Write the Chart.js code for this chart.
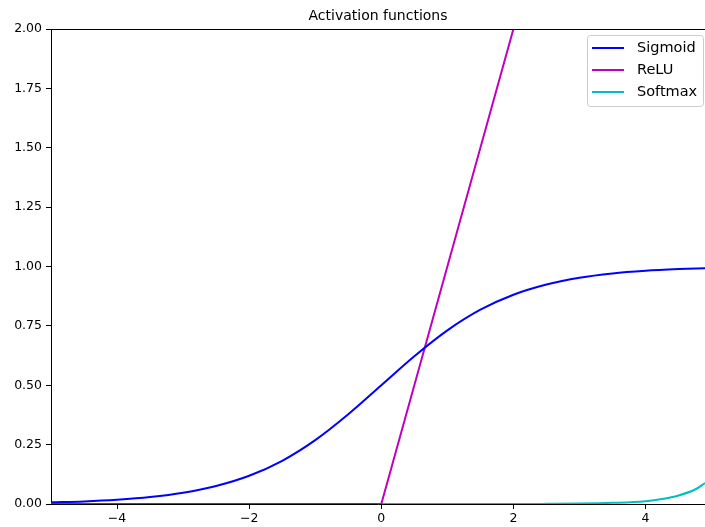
<!DOCTYPE html>
<html>
<head>
<meta charset="utf-8">
<title>Activation functions</title>
<script src="https://cdn.jsdelivr.net/npm/chart.js"></script>
<style>
  body { margin: 0; background: #fff; }
  canvas { display: block; }
</style>
</head>
<body>
<canvas id="chart" width="705" height="527"></canvas>
<script>
// data
const xs = [-5, -4.5, -4, -3.5, -3, -2.5, -2, -1.5, -1, -0.5, 0, 0.5, 1, 1.5, 2, 2.5, 3, 3.5, 4, 4.5, 4.9];
const sigmoidVals = [0.007, 0.011, 0.018, 0.029, 0.047, 0.076, 0.119, 0.182, 0.269, 0.378, 0.5, 0.622, 0.731, 0.818, 0.881, 0.924, 0.953, 0.971, 0.982, 0.989, 0.993];
const reluVals = [0, 0, 0, 0, 0, 0, 0, 0, 0, 0, 0, 0.5, 1, 1.5, 2, 2.5, 3, 3.5, 4, 4.5, 4.9];
const softmaxXs = [-5, -4, -3, -2, -1, 0, 1, 2, 2.5, 3, 3.5, 4, 4.25, 4.5, 4.75, 4.9];
const softmaxVals = [0, 0, 0, 0, 0, 0, 0, 0, 0.0006, 0.0018, 0.005, 0.012, 0.021, 0.036, 0.061, 0.088];
const xTicks = [-4, -2, 0, 2, 4];
const seriesNames = ['Sigmoid', 'ReLU', 'Softmax'];
const seriesColors = ['#0000ff', '#bf00bf', '#00bfbf'];

const FONT = 'DejaVu Sans';
const pts = (xv, vals) => xv.map((x, i) => ({ x: x, y: vals[i] }));

// title, top spine and legend box, drawn like matplotlib does
const extras = {
  id: 'extras',
  afterDraw(chart) {
    const ctx = chart.ctx;
    const a = chart.chartArea;
    ctx.save();
    // top spine
    ctx.strokeStyle = '#000';
    ctx.lineWidth = 1;
    ctx.beginPath();
    ctx.moveTo(a.left, Math.round(a.top) + 0.5);
    ctx.lineTo(a.right, Math.round(a.top) + 0.5);
    ctx.stroke();

    // title
    ctx.fillStyle = '#000';
    ctx.font = '14px "' + FONT + '"';
    ctx.textAlign = 'center';
    ctx.textBaseline = 'middle';
    ctx.fillText('Activation functions', (a.left + a.right) / 2, 16);

    // legend
    const bx = 587.5, by = 35.5, bw = 116, bh = 71, r = 3;
    ctx.beginPath();
    ctx.moveTo(bx + r, by);
    ctx.arcTo(bx + bw, by, bx + bw, by + bh, r);
    ctx.arcTo(bx + bw, by + bh, bx, by + bh, r);
    ctx.arcTo(bx, by + bh, bx, by, r);
    ctx.arcTo(bx, by, bx + bw, by, r);
    ctx.closePath();
    ctx.fillStyle = 'rgba(255,255,255,0.8)';
    ctx.fill();
    ctx.strokeStyle = '#cccccc';
    ctx.stroke();

    ctx.font = '14.5px "' + FONT + '"';
    ctx.textAlign = 'left';
    seriesNames.forEach((name, i) => {
      const y = 48 + i * 22;
      ctx.strokeStyle = seriesColors[i];
      ctx.lineWidth = 2;
      ctx.beginPath();
      ctx.moveTo(592, y);
      ctx.lineTo(624, y);
      ctx.stroke();
      ctx.fillStyle = '#000';
      ctx.fillText(name, 637, y);
    });
    ctx.restore();
  }
};

new Chart(document.getElementById('chart'), {
  type: 'line',
  data: {
    datasets: [
      { label: seriesNames[0], data: pts(xs, sigmoidVals), borderColor: seriesColors[0], cubicInterpolationMode: 'monotone' },
      { label: seriesNames[1], data: pts(xs, reluVals), borderColor: seriesColors[1], tension: 0 },
      { label: seriesNames[2], data: pts(softmaxXs, softmaxVals), borderColor: seriesColors[2], cubicInterpolationMode: 'monotone' }
    ]
  },
  options: {
    responsive: false,
    animation: false,
    events: [],
    elements: {
      point: { radius: 0 },
      line: { borderWidth: 2, fill: false }
    },
    layout: { padding: { top: 29, right: 0, left: 0, bottom: 0 } },
    plugins: {
      legend: { display: false },
      title: { display: false },
      tooltip: { enabled: false }
    },
    scales: {
      x: {
        type: 'linear',
        min: -5,
        max: 4.9,
        afterFit: s => { s.height = 23; },
        afterBuildTicks: s => { s.ticks = xTicks.map(v => ({ value: v })); },
        border: { color: '#000', width: 1 },
        grid: { drawOnChartArea: false, tickLength: 5, tickColor: '#000' },
        ticks: {
          color: '#000',
          padding: 2,
          maxRotation: 0,
          font: { family: FONT, size: 12.5 },
          callback: v => String(v).replace('-', '\u2212')
        }
      },
      y: {
        min: 0,
        max: 2,
        afterFit: s => { s.width = 51; },
        border: { color: '#000', width: 1 },
        grid: { drawOnChartArea: false, tickLength: 5, tickColor: '#000' },
        ticks: {
          stepSize: 0.25,
          color: '#000',
          padding: 4,
          font: { family: FONT, size: 12.5 },
          callback: v => v.toFixed(2)
        }
      }
    }
  },
  plugins: [extras]
});
</script>
</body>
</html>
